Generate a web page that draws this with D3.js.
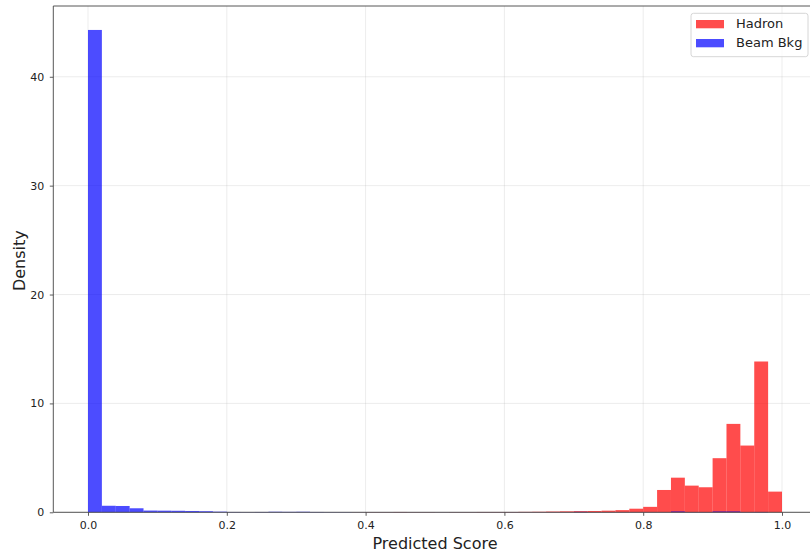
<!DOCTYPE html>
<html>
<head>
<meta charset="utf-8">
<script src="https://cdn.jsdelivr.net/npm/d3@7"></script>
<style>
  html, body { margin: 0; padding: 0; background: #fff; }
  svg { display: block; font-family: "DejaVu Sans", sans-serif; }
</style>
</head>
<body>
<svg id="chart" width="810" height="552"></svg>
<script>
// ---- data (50 bins of width 0.02 over [0, 1]) ----
const binEdgesStart = 0;
const binWidth = 0.02;
const seriesNames = ["Hadron", "Beam Bkg"];
const hadronDensity = [
  0, 0, 0, 0, 0, 0, 0, 0, 0, 0,
  0, 0, 0, 0, 0, 0, 0, 0, 0, 0.01,
  0.02, 0.02, 0.03, 0.02, 0.02, 0.01, 0.02, 0.02, 0.03, 0.03,
  0.03, 0.04, 0.05, 0.07, 0.09, 0.11, 0.12, 0.15, 0.2, 0.33,
  0.5, 2.05, 3.18, 2.45, 2.3, 4.97, 8.12, 6.13, 13.85, 1.9
];
const beamBkgDensity = [
  44.3, 0.6, 0.58, 0.37, 0.16, 0.15, 0.14, 0.12, 0.1, 0.06,
  0.03, 0.02, 0.03, 0.05, 0.04, 0.05, 0.03, 0.02, 0.02, 0.01,
  0.01, 0.01, 0.01, 0.01, 0.01, 0.01, 0.01, 0.01, 0.01, 0.01,
  0.01, 0.01, 0.01, 0.01, 0.01, 0.04, 0.01, 0.01, 0.01, 0.01,
  0.01, 0.01, 0.08, 0.02, 0.02, 0.08, 0.08, 0.02, 0.03, 0
];
const xTicks = [0.0, 0.2, 0.4, 0.6, 0.8, 1.0];
const yTicks = [0, 10, 20, 30, 40];
const xLabel = "Predicted Score";
const yLabel = "Density";

// ---- layout ----
const svg = d3.select("#chart");
const m = { left: 53.3, right: 816.7, top: 6, bottom: 512.3 };
const x = d3.scaleLinear().domain([-0.05, 1.05]).range([m.left, m.right]);
const y = d3.scaleLinear().domain([0, 46.5]).range([m.bottom, m.top]);

// grid
const grid = svg.append("g");
xTicks.forEach(t => grid.append("line")
  .attr("x1", x(t)).attr("x2", x(t)).attr("y1", m.top).attr("y2", m.bottom)
  .attr("stroke", "#b0b0b0").attr("stroke-opacity", 0.3).attr("stroke-width", 0.8));
yTicks.forEach(t => grid.append("line")
  .attr("y1", y(t)).attr("y2", y(t)).attr("x1", m.left).attr("x2", m.right)
  .attr("stroke", "#b0b0b0").attr("stroke-opacity", 0.3).attr("stroke-width", 0.8));

// bars
function drawSeries(data, color) {
  svg.append("g").selectAll("rect").data(data).join("rect")
    .attr("x", (d, i) => x(binEdgesStart + i * binWidth))
    .attr("width", (d, i) => x(binEdgesStart + (i + 1) * binWidth) - x(binEdgesStart + i * binWidth))
    .attr("y", d => y(d))
    .attr("height", d => y(0) - y(d))
    .attr("fill", color)
    .attr("fill-opacity", 0.7);
}
drawSeries(hadronDensity, "#ff0000");
drawSeries(beamBkgDensity, "#0000ff");

// axes
const xAxis = d3.axisBottom(x).tickValues(xTicks).tickFormat(d3.format(".1f")).tickSize(3.5).tickPadding(5);
const yAxis = d3.axisLeft(y).tickValues(yTicks).tickFormat(d3.format("d")).tickSize(3.5).tickPadding(5.5);
const gx = svg.append("g").attr("transform", `translate(0,${m.bottom})`).call(xAxis);
const gy = svg.append("g").attr("transform", `translate(${m.left},0)`).call(yAxis);
[gx, gy].forEach(g => {
  g.select(".domain").remove();
  g.selectAll(".tick line").attr("stroke", "#333").attr("stroke-width", 0.8);
  g.selectAll(".tick text").attr("fill", "#222").style("font-size", "11px").style("font-family", "DejaVu Sans");
});

// spines
const sp = svg.append("g").attr("stroke", "#444").attr("stroke-width", 0.9).attr("fill", "none");
sp.append("line").attr("x1", m.left).attr("x2", m.left).attr("y1", m.top).attr("y2", m.bottom);
sp.append("line").attr("x1", m.left).attr("x2", m.right).attr("y1", m.bottom).attr("y2", m.bottom);
sp.append("line").attr("x1", m.left).attr("x2", m.right).attr("y1", m.top).attr("y2", m.top);
sp.append("line").attr("x1", m.right).attr("x2", m.right).attr("y1", m.top).attr("y2", m.bottom);

// labels
svg.append("text").attr("x", x(0.5)).attr("y", 548.5)
  .attr("text-anchor", "middle").attr("fill", "#222")
  .style("font-size", "16px").text(xLabel);
svg.append("text").attr("transform", `translate(25,${(m.top + m.bottom) / 2 + 1.5}) rotate(-90)`)
  .attr("text-anchor", "middle").attr("fill", "#222")
  .style("font-size", "16px").text(yLabel);

// legend
const lg = svg.append("g").attr("transform", "translate(691,13.3)");
lg.append("rect").attr("width", 117).attr("height", 43.4).attr("rx", 2.5)
  .attr("fill", "#fff").attr("fill-opacity", 0.8).attr("stroke", "#ccc").attr("stroke-width", 0.8);
const colors = ["#ff0000", "#0000ff"];
seriesNames.forEach((n, i) => {
  lg.append("rect").attr("x", 5).attr("y", 6.7 + i * 19).attr("width", 28).attr("height", 8.3)
    .attr("fill", colors[i]).attr("fill-opacity", 0.7);
  lg.append("text").attr("x", 45).attr("y", 15.2 + i * 19)
    .attr("fill", "#222").style("font-size", "13px").text(n);
});
</script>
</body>
</html>
